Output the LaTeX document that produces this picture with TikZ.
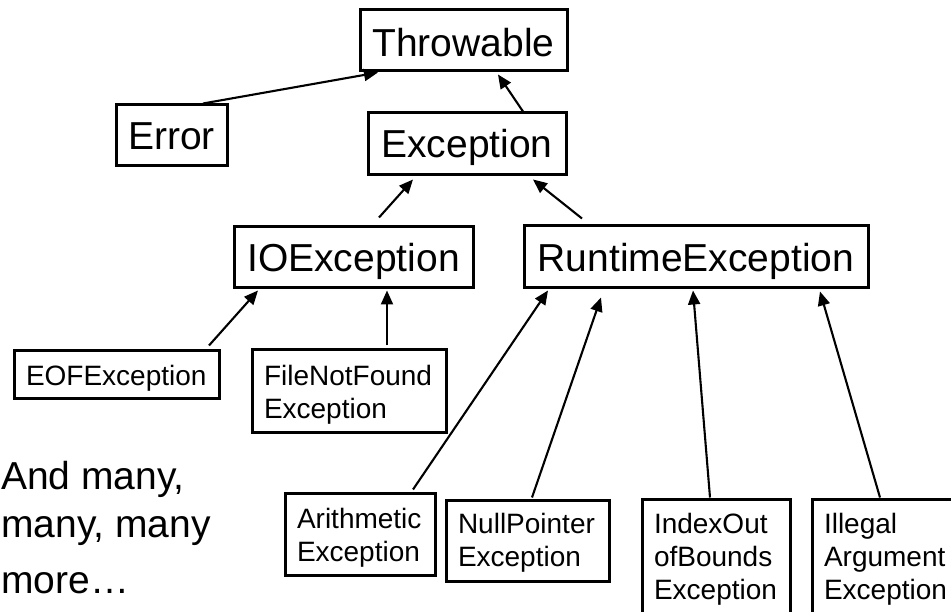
\documentclass[tikz,border=0pt]{standalone}
\usepackage{fontspec}
\setmainfont{Liberation Sans}
\usetikzlibrary{arrows.meta}
\begin{document}
\begin{tikzpicture}[x=1pt,y=-1pt,
  big/.style={draw, line width=3pt, inner xsep=0pt, inner ysep=0pt, font=\fontsize{39}{47}\selectfont},
  small/.style={draw, line width=3pt, inner xsep=12pt, inner ysep=0pt, align=left, font=\fontsize{28}{33}\selectfont},
  arr/.style={line width=2.1pt, -{Triangle[length=14pt,width=12pt]}}]
\useasboundingbox (0,0) rectangle (951,612);
\clip (0,0) rectangle (951,612);

\node[big, minimum width=207pt, text height=47pt, text depth=14pt] (thr) at (463.5,40.5) {Throwable};
\node[big, minimum width=111pt, text height=45pt, text depth=16pt] (err) at (171.5,135.5) {Error};
\node[big, minimum width=198pt, text height=45pt, text depth=17pt] (exc) at (467,144) {Exception};
\node[big, minimum width=239pt, text height=45pt, text depth=16pt] (io) at (353.5,257.5) {IOException};
\node[big, minimum width=344pt, text height=46pt, text depth=16pt] (rt) at (696,257) {RuntimeException};

\node[small, text width=181pt, text height=34pt, text depth=14pt] (eof) at (116.5,375) {EOFException};
\node[small, text width=170pt, text height=35pt, text depth=47pt] (fnf) at (349,391) {FileNotFound\\Exception};
\node[small, text width=126pt, text height=35pt, text depth=47pt] (ari) at (360,534) {Arithmetic\\Exception};
\node[small, text width=139pt, text height=33pt, text depth=48pt] (np) at (527.5,540.5) {NullPointer\\Exception};
\node[small, text width=124pt, text height=34pt, text depth=86pt] (ix) at (716,559) {IndexOut\\ofBounds\\Exception};
\node[small, text width=124pt, text height=34pt, text depth=86pt] (il) at (886,559) {Illegal\\Argument\\Exception};

\node[anchor=base west, align=left, inner sep=0pt, font=\fontsize{39}{48}\selectfont] (more) at (1,593) {And many,\\many, many\\[8pt]more…};

\draw[arr] ([xshift=31.5pt]err.north) -- ([xshift=-85.5pt]thr.south);
\draw[arr] ([xshift=56pt]exc.north) -- ([xshift=34.5pt,yshift=-2pt]thr.south);
\draw[arr] ([xshift=25.5pt,yshift=8pt]io.north) -- ([xshift=-54pt,yshift=-3pt]exc.south);
\draw[arr] ([xshift=-114pt,yshift=6pt]rt.north) -- ([xshift=66pt,yshift=-3pt]exc.south);
\draw[arr] ([xshift=92.5pt,yshift=4pt]eof.north) -- ([xshift=-95.5pt,yshift=-1pt]io.south);
\draw[arr] ([xshift=38pt,yshift=3pt]fnf.north) -- ([xshift=33.5pt,yshift=-1pt]io.south);
\draw[arr] ([xshift=53pt,yshift=2pt]ari.north) -- ([xshift=-148pt,yshift=-1pt]rt.south);
\draw[arr] ([xshift=4.5pt,yshift=1pt]np.north) -- ([xshift=-95pt,yshift=-8pt]rt.south);
\draw[arr] ([xshift=-6pt]ix.north) -- ([xshift=-3pt,yshift=-1pt]rt.south);
\draw[arr] ([xshift=-6pt]il.north) -- ([xshift=124pt,yshift=-2pt]rt.south);
\end{tikzpicture}
\end{document}
